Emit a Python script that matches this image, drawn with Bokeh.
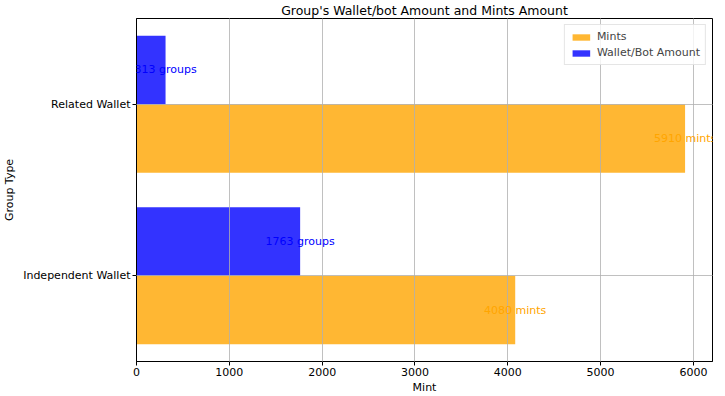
from bokeh.plotting import figure
from bokeh.models import ColumnDataSource, LabelSet, FixedTicker, Legend, LegendItem, Range1d, FactorRange
from bokeh.transform import dodge
from bokeh.core.properties import value
from bokeh.embed import file_html
from bokeh.resources import INLINE

# ---- data ----
groups = ["Independent Wallet", "Related Wallet"]
mints = [4080, 5910]
wallets = [1763, 313]
x_ticks = [0, 1000, 2000, 3000, 4000, 5000, 6000]

FONT = "DejaVu Sans"
ORANGE = "orange"
BLUE = "blue"

src = ColumnDataSource(dict(
    group=groups,
    mints=mints,
    wallets=wallets,
    mint_text=[f"{v} mints" for v in mints],
    wallet_text=[f"{v} groups" for v in wallets],
))

p = figure(
    width=715, height=396,
    y_range=FactorRange(*groups, range_padding=0),
    x_range=Range1d(0, max(mints) * 1.05),
    output_backend="svg", toolbar_location=None,
    title="Group's Wallet/bot Amount and Mints Amount",
    min_border_left=5, min_border_right=3, min_border_top=0, min_border_bottom=0,
)

r_mint = p.hbar(y=dodge("group", -0.2, range=p.y_range), right="mints", left=0, height=0.4,
                source=src, fill_color=ORANGE, fill_alpha=0.8, line_color=None)
r_wal = p.hbar(y=dodge("group", 0.2, range=p.y_range), right="wallets", left=0, height=0.4,
               source=src, fill_color=BLUE, fill_alpha=0.8, line_color=None)

lab_m = LabelSet(x="mints", y=dodge("group", -0.2, range=p.y_range), text="mint_text", source=src,
                 text_color=ORANGE, text_align="center", text_baseline="middle",
                 text_font=value(FONT), text_font_size="11px")
lab_w = LabelSet(x="wallets", y=dodge("group", 0.2, range=p.y_range), text="wallet_text", source=src,
                 text_color=BLUE, text_align="center", text_baseline="middle",
                 text_font=value(FONT), text_font_size="11px")
p.add_layout(lab_m)
p.add_layout(lab_w)

legend = Legend(items=[LegendItem(label="Mints", renderers=[r_mint]),
                       LegendItem(label="Wallet/Bot Amount", renderers=[r_wal])],
                location="top_right")
legend.label_text_font = FONT
legend.label_text_font_size = "11px"
legend.label_height = 12
legend.glyph_height = 8
legend.glyph_width = 22
legend.spacing = 3
legend.padding = 5
legend.margin = 6
legend.border_line_color = "#cccccc"
legend.background_fill_alpha = 0.8
p.add_layout(legend)

# title
p.title.text_font = FONT
p.title.text_font_size = "12.5px"
p.title.text_font_style = "normal"
p.title.align = "center"
p.title.text_color = "black"
p.title.standoff = 1
p.title.offset = 0

# axes
p.xaxis.ticker = FixedTicker(ticks=x_ticks)
p.xaxis.axis_label = "Mint"
p.yaxis.axis_label = "Group Type"
for ax in (p.xaxis[0], p.yaxis[0]):
    ax.axis_label_text_font = FONT
    ax.axis_label_text_font_size = "11px"
    ax.axis_label_text_font_style = "normal"
    ax.axis_label_text_color = "black"
    ax.major_label_text_font = FONT
    ax.major_label_text_font_size = "11px"
    ax.major_label_text_color = "black"
    ax.axis_line_color = "black"
    ax.major_tick_line_color = "black"
    ax.major_tick_out = 4
    ax.major_tick_in = 0
    ax.minor_tick_line_color = None
    ax.major_label_standoff = 2
    ax.axis_label_standoff = 2
p.yaxis.axis_label_standoff = 4

p.outline_line_color = "black"
p.outline_line_alpha = 1

# grid over bars like matplotlib
for g in (p.xgrid[0], p.ygrid[0]):
    g.grid_line_color = "#b0b0b0"
    g.grid_line_width = 0.8
    g.level = "guide"

p.background_fill_color = "white"
p.border_fill_color = "white"

open("out.html", "w").write(file_html(p, INLINE))
